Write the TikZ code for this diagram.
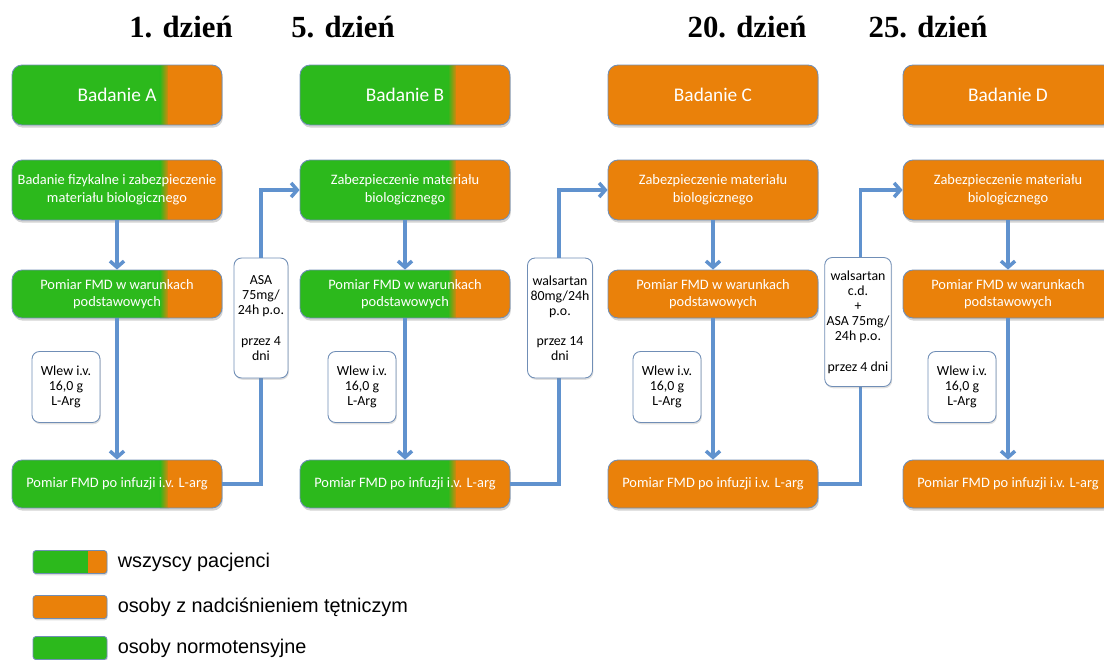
\documentclass[tikz,border=0pt]{standalone}
\usepackage{fontspec}
\setmainfont{Liberation Sans}
\newfontfamily\boxfont{Carlito}
\newfontfamily\dayfont{Liberation Serif}
\usetikzlibrary{arrows.meta,calc,positioning,shadows}

\definecolor{pgreen}{RGB}{44,185,28}
\definecolor{porange}{RGB}{234,129,10}
\definecolor{pborder}{RGB}{112,142,182}
\definecolor{pflow}{RGB}{96,146,206}

\begin{document}
\begin{tikzpicture}[
	x = 0.02cm, y = -0.02cm,
	box/.style = {draw = pborder, line width = 0.5pt, rounded corners = 0.2cm,
		text = white, minimum width = 4.2cm, minimum height = 0.96cm,
		align = center, inner sep = 1pt,
		drop shadow = {shadow xshift = 0.5pt, shadow yshift = -1.5pt, opacity = 0.35},
		font = \boxfont\fontsize{8.2}{10}\selectfont},
	head/.style = {box, minimum height = 1.2cm, font = \boxfont\fontsize{11}{13}\selectfont},
	tall/.style = {minimum height = 1.2cm},
	both/.style = {path picture = {
		\fill[pgreen, sharp corners] (path picture bounding box.north west) rectangle ([xshift = 2.98cm]path picture bounding box.south west);
		\shade[left color = pgreen, right color = porange, sharp corners] ([xshift = 2.96cm]path picture bounding box.north west) rectangle ([xshift = 3.14cm]path picture bounding box.south west);
		\fill[porange, sharp corners] ([xshift = 3.12cm]path picture bounding box.north west) rectangle (path picture bounding box.south east);
	}},
	hyper/.style = {fill = porange},
	note/.style = {draw = pborder, line width = 0.5pt, fill = white, rounded corners = 0.15cm,
		align = center, inner sep = 1pt,
		drop shadow = {shadow xshift = 0.5pt, shadow yshift = -1pt, opacity = 0.25},
		font = \boxfont\fontsize{7.9}{8.6}\selectfont},
	flow/.style = {draw = pflow, line width = 2pt, -{Straight Barb[length = 3.5pt, width = 8pt]}},
	day/.style = {anchor = base, font = \dayfont\bfseries\fontsize{17.5}{20}\selectfont},
	swatch/.style = {draw = pborder, line width = 0.5pt, rounded corners = 0.06cm,
		minimum width = 1.48cm, minimum height = 0.46cm, inner sep = 0pt,
		drop shadow = {shadow xshift = 0.4pt, shadow yshift = -1pt, opacity = 0.3}},
	legend/.style = {anchor = west, inner sep = 0pt, font = \fontsize{11.3}{13}\selectfont}
	]
	\useasboundingbox (0,0) rectangle (1104,659);

	% days
	\node[day] (day1) at (181,37) {1. dzień};
	\node[day] (day5) at (343,37) {5. dzień};
	\node[day] (day20) at (747,37) {20. dzień};
	\node[day] (day25) at (928,37) {25. dzień};

	% columns
	\foreach \c/\L/\x/\s/\w in {a/A/117/both/66, b/B/405/both/362, c/C/713/hyper/667, d/D/1008/hyper/962}{
		\node[head, \s] (\c1) at (\x,95) {Badanie \L};
		\node[box, \s] (\c3) at (\x,294) {Pomiar FMD w warunkach\\podstawowych};
		\node[box, \s] (\c4) at (\x,484) {Pomiar FMD po infuzji i.v. L-arg};
		\node[note, minimum width = 1.36cm, minimum height = 1.42cm] (\c w) at (\w,387) {Wlew i.v.\\16,0 g\\L-Arg};
	}
	\node[box, tall, both] (a2) at (117,190) {Badanie fizykalne i zabezpieczenie\\materiału biologicznego};
	\foreach \c/\x/\s in {b/405/both, c/713/hyper, d/1008/hyper}
		\node[box, tall, \s] (\c2) at (\x,190) {Zabezpieczenie materiału\\biologicznego};

	\foreach \c in {a,b,c,d}{
		\draw[flow] (\c2) -- (\c3);
		\draw[flow] (\c3) -- (\c4);
	}
	\foreach \p/\n in {a/b, b/c, c/d}
		\draw[flow] (\p4.east) -| ($(\p4.east)!.5!(\n2.west)$) |- (\n2.west);

	% drugs between days
	\node[note, minimum width = 1.08cm, minimum height = 2.4cm] (asa) at (261,318)
		{ASA\\75mg/\\24h p.o.\\[8.6pt]przez 4\\dni};
	\node[note, minimum width = 1.3cm, minimum height = 2.4cm] (wals) at (560,318)
		{walsartan\\80mg/24h\\p.o.\\[8.6pt]przez 14\\dni};
	\node[note, minimum width = 1.2cm, minimum height = 2.58cm] (walsasa) at (858,322)
		{walsartan\\c.d.\\+\\ASA 75mg/\\24h p.o.\\[8.6pt]przez 4 dni};

	% legend
	\node[swatch, path picture = {
		\fill[pgreen, sharp corners] (path picture bounding box.north west) rectangle (path picture bounding box.south east);
		\fill[porange, sharp corners] ([xshift = 1.1cm]path picture bounding box.north west) rectangle (path picture bounding box.south east);
	}] (l1) at (70,562) {};
	\node[legend, right = 0.2cm of l1] (t1) {wszyscy pacjenci};
	\node[swatch, fill = porange] (l2) at (70,607) {};
	\node[legend, right = 0.2cm of l2] (t2) {osoby z nadciśnieniem tętniczym};
	\node[swatch, fill = pgreen] (l3) at (70,648) {};
	\node[legend, right = 0.2cm of l3] (t3) {osoby normotensyjne};
\end{tikzpicture}
\end{document}
